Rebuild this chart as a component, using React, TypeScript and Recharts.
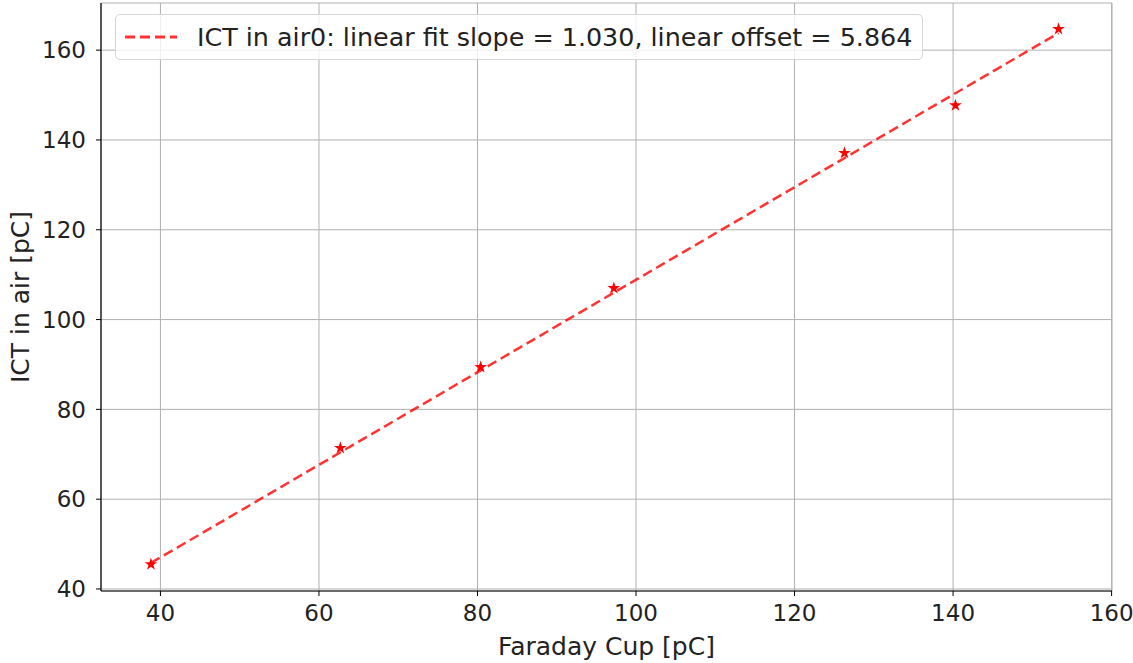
import {
  CartesianGrid,
  ComposedChart,
  Label,
  Legend,
  Line,
  Scatter,
  XAxis,
  YAxis,
  ZAxis,
} from 'recharts';

const faradayCup = [38.8, 62.7, 80.4, 97.2, 126.3, 140.3, 153.3];
const ictInAir = [45.5, 71.4, 89.4, 107.0, 137.1, 147.7, 164.7];
const fitX = [38.8, 153.3];
const fitY = [45.8, 163.8];
const xTicks = [40, 60, 80, 100, 120, 140, 160];
const yTicks = [40, 60, 80, 100, 120, 140, 160];
const fitLabel = 'ICT in air0: linear fit slope = 1.030, linear offset = 5.864';

const points = faradayCup.map((x, i) => ({ x, y: ictInAir[i] }));
const fitData = fitX.map((x, i) => ({ x, y: fitY[i] }));

const xDomain: [number, number] = [32.5, 160.05];
const yDomain: [number, number] = [39.55, 170.5];

const tickStyle = { fontSize: 23, fill: '#222' };

function FitLegend({ payload }: any) {
  const items = (payload || []).filter((p: any) => p.type !== 'none');
  return (
    <div
      style={{
        width: 808,
        height: 46,
        boxSizing: 'border-box',
        border: '1px solid #d6d6d6',
        borderRadius: 5,
        background: 'rgba(255,255,255,0.8)',
        display: 'flex',
        alignItems: 'center',
      }}
    >
      {items.map((item: any) => (
        <div key={item.value} style={{ display: 'flex', alignItems: 'center' }}>
          <svg width={52} height={6} style={{ marginLeft: 9 }}>
            <line
              x1={0}
              y1={3}
              x2={52}
              y2={3}
              stroke={item.color}
              strokeOpacity={0.8}
              strokeWidth={3}
              strokeDasharray="10 5"
            />
          </svg>
          <span style={{ marginLeft: 20, fontSize: 25.4, color: '#222', whiteSpace: 'nowrap' }}>
            {item.value}
          </span>
        </div>
      ))}
    </div>
  );
}

export default function App() {
  return (
    <div style={{ position: 'absolute', left: 0, top: 0, fontFamily: 'DejaVu Sans' }}>
      <ComposedChart width={1133} height={663} margin={{ top: 3, right: 21, bottom: 0, left: 0 }}>
        <CartesianGrid stroke="#b0b0b0" strokeWidth={1} />
        <XAxis
          dataKey="x"
          type="number"
          domain={xDomain}
          allowDataOverflow
          ticks={xTicks}
          height={72}
          tick={tickStyle}
          tickSize={5}
          tickMargin={9}
          tickLine={{ stroke: '#000' }}
          axisLine={{ stroke: '#000', strokeWidth: 1.2 }}
        >
          <Label
            content={({ viewBox }: any) => (
              <text
                x={viewBox.x + viewBox.width / 2}
                y={viewBox.y + 64}
                textAnchor="middle"
                fontSize={25}
                fill="#222"
              >
                Faraday Cup [pC]
              </text>
            )}
          />
        </XAxis>
        <XAxis
          xAxisId="top"
          orientation="top"
          type="number"
          domain={xDomain}
          allowDataOverflow
          height={0}
          tick={false}
          tickLine={false}
          axisLine={{ stroke: '#000', strokeWidth: 1.2 }}
        />
        <YAxis
          type="number"
          domain={yDomain}
          allowDataOverflow
          ticks={yTicks}
          width={101}
          tick={tickStyle}
          tickSize={5}
          tickMargin={10}
          tickLine={{ stroke: '#000' }}
          axisLine={{ stroke: '#000', strokeWidth: 1.2 }}
        >
          <Label
            content={({ viewBox }: any) => {
              const cx = viewBox.x + 20;
              const cy = viewBox.y + viewBox.height / 2;
              return (
                <text
                  x={cx}
                  y={cy}
                  transform={`rotate(-90 ${cx} ${cy})`}
                  textAnchor="middle"
                  dominantBaseline="central"
                  fontSize={25}
                  fill="#222"
                >
                  ICT in air [pC]
                </text>
              );
            }}
          />
        </YAxis>
        <YAxis
          yAxisId="right"
          orientation="right"
          type="number"
          domain={yDomain}
          allowDataOverflow
          width={0}
          tick={false}
          tickLine={false}
          axisLine={{ stroke: '#000', strokeWidth: 1.2 }}
        />
        <ZAxis range={[50, 50]} />
        <Legend
          layout="horizontal"
          verticalAlign="middle"
          align="center"
          content={<FitLegend />}
          wrapperStyle={{ position: 'absolute', left: 115, top: 14, width: 'auto' }}
        />
        <Line
          data={fitData}
          dataKey="y"
          name={fitLabel}
          stroke="#ff0000"
          strokeOpacity={0.8}
          strokeWidth={2.5}
          strokeDasharray="10 5"
          dot={false}
          activeDot={false}
          legendType="line"
          isAnimationActive={false}
        />
        <Scatter
          data={points}
          dataKey="y"
          fill="#ff0000"
          shape="star"
          legendType="none"
          isAnimationActive={false}
        />
      </ComposedChart>
    </div>
  );
}
